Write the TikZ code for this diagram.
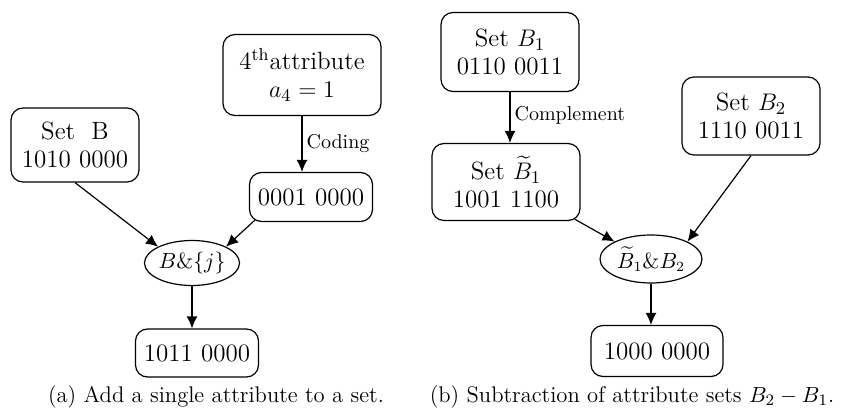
\documentclass[tikz,border=0pt]{standalone}
\usepackage{amsmath}
\usetikzlibrary{arrows.meta,shapes.geometric}
\begin{document}
\begin{tikzpicture}[x=0.5pt, y=-0.5pt]
      \tikzstyle{setbox}=[draw, semithick, rounded corners=6pt, align=center,
        inner sep=2pt, font=\fontsize{12.5}{14}\selectfont]
      \tikzstyle{opnode}=[draw, semithick, ellipse, inner sep=0pt,
        font=\fontsize{10.5}{12}\selectfont]
      \tikzstyle{arr}=[semithick, -{Latex[length=6pt,width=5.5pt]}]
      \tikzstyle{lbl}=[font=\fontsize{10}{12}\selectfont, inner sep=2pt]
      \tikzstyle{subcap}=[font=\fontsize{11.3}{13}\selectfont]
      \useasboundingbox (0,0) rectangle (844,411);

      % (a) add a single attribute
      \node[setbox, minimum width=64pt, minimum height=37pt] (setb) at (75,145)
        {Set \ B\\1010 0000};
      \node[setbox, minimum width=79pt, minimum height=40.5pt] (attr) at (302,75)
        {4\textsuperscript{th}attribute\\$a_4=1$};
      \node[setbox, minimum width=61.5pt, minimum height=24.5pt] (code) at (311,197)
        {0001 0000};
      \node[opnode, minimum width=47.5pt, minimum height=22.5pt] (opa) at (192,263)
        {$B\&\{j\}$};
      \node[setbox, minimum width=61.5pt, minimum height=24pt] (resa) at (197,353)
        {1011 0000};

      \draw[arr] (attr) -- (attr |- code.north)
        node[lbl, midway, right] (coding) {Coding};
      \draw[arr] (setb.south) -- (opa.north west);
      \draw[arr] ([xshift=3pt,yshift=1pt]code.south west) -- (opa.north east);
      \draw[arr] (opa) -- (opa |- resa.north);

      \node[subcap] (capa) at (216,397) {(a) Add a single attribute to a set.};

      % (b) subtraction of attribute sets
      \node[setbox, minimum width=69pt, minimum height=39.5pt] (setbo) at (510,52)
        {Set $B_1$\\0110 0011};
      \node[setbox, minimum width=74pt, minimum height=38.5pt] (setbt) at (506,182)
        {Set $\widetilde{B}_1$\\1001 1100};
      \node[setbox, minimum width=69pt, minimum height=39pt] (setbtwo) at (751,116)
        {Set $B_2$\\1110 0011};
      \node[opnode, minimum width=51pt, minimum height=24pt] (opb) at (651,259)
        {$\widetilde{B}_1\&B_2$};
      \node[setbox, minimum width=66pt, minimum height=25.5pt] (resb) at (657,351)
        {1000 0000};

      \draw[arr] (setbo) -- (setbo |- setbt.north)
        node[lbl, pos=0.45, right] (compl) {Complement};
      \draw[arr] ([xshift=-3pt,yshift=1pt]setbt.south east) -- (opb.north west);
      \draw[arr] (setbtwo.south) -- (opb.north east);
      \draw[arr] (opb) -- (opb |- resb.north);

      \node[subcap] (capb) at (632,397) {(b) Subtraction of attribute sets $B_2-B_1$.};
\end{tikzpicture}
\end{document}
